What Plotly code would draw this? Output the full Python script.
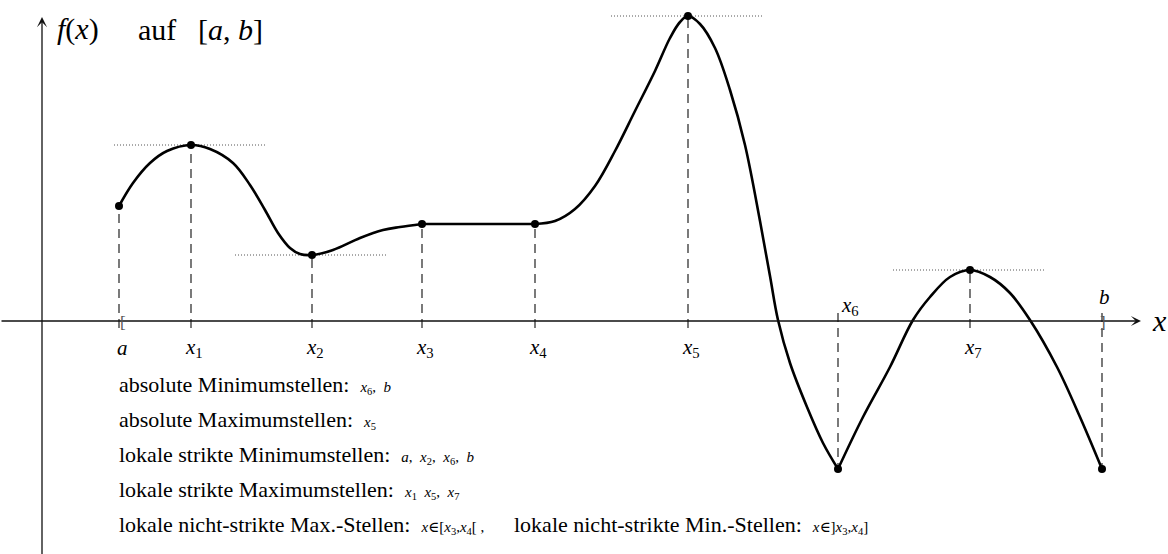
import plotly.graph_objects as go

# Marked points of f on [a, b]: horizontal position and function value
point_names = ["a", "x1", "x2", "x3", "x4", "x5", "x6", "x7", "b"]
point_x = [119, 191, 312, 422, 535, 688, 838, 970, 1102]
point_y = [115, 176, 66, 97, 97, 305, -148, 51, -148]

# Curve knots between the marked points
seg1_x = [119, 133, 150, 167, 191, 210, 233, 250, 265, 278, 290, 300, 312, 333, 360, 383, 400, 422]
seg1_y = [115, 138, 158, 170, 176, 172, 158, 136, 111, 88, 73, 67, 66, 71, 83, 91, 94, 97]
seg2_x = [422, 535]
seg2_y = [97, 97]
seg3_x = [535, 555, 575, 595, 615, 635, 655, 670, 680, 688, 700, 715, 730, 745, 760, 770, 778, 790, 807, 823, 838]
seg3_y = [97, 100, 112, 135, 170, 210, 250, 283, 299, 305, 297, 273, 231, 176, 100, 45, 1, -42, -86, -122, -148]
seg4_x = [838, 863, 890, 913, 930, 950, 970, 990, 1010, 1030, 1057, 1080, 1102]
seg4_y = [-148, -96, -46, 1, 24, 44, 51, 44, 28, 1, -46, -96, -148]

# Points with a horizontal tangent
tangent_points = ["x1", "x2", "x5", "x7"]

# Description lines
lines = [
    ("absolute Minimumstellen:", "<i>x</i><sub>6</sub>,  <i>b</i>"),
    ("absolute Maximumstellen:", "<i>x</i><sub>5</sub>"),
    ("lokale strikte Minimumstellen:", "<i>a</i>,  <i>x</i><sub>2</sub>,  <i>x</i><sub>6</sub>,  <i>b</i>"),
    ("lokale strikte Maximumstellen:", "<i>x</i><sub>1</sub>  <i>x</i><sub>5</sub>,  <i>x</i><sub>7</sub>"),
    ("lokale nicht-strikte Max.-Stellen:", "<i>x</i>∈[<i>x</i><sub>3</sub>,<i>x</i><sub>4</sub>[ ,"),
]
extra_line = ("lokale nicht-strikte Min.-Stellen:", "<i>x</i>∈]<i>x</i><sub>3</sub>,<i>x</i><sub>4</sub>]")

SERIF = "Times New Roman, Liberation Serif, DejaVu Serif, serif"
BLACK = "#000000"

fig = go.Figure()

# dashed drop lines from each point to the x axis
for name, px, py in zip(point_names, point_x, point_y):
    if py > 0:
        y0, y1 = -7, py
    else:
        y0, y1 = 8, py
    fig.add_trace(go.Scatter(x=[px, px], y=[y0, y1], mode="lines",
                             line=dict(color="#222222", width=1.2, dash="9px,6px"),
                             hoverinfo="skip", showlegend=False))

# dotted horizontal tangents
for name in tangent_points:
    i = point_names.index(name)
    fig.add_trace(go.Scatter(x=[point_x[i] - 77, point_x[i] + 76], y=[point_y[i], point_y[i]],
                             mode="lines", line=dict(color="#555555", width=1, dash="1px,2px"),
                             hoverinfo="skip", showlegend=False))

# the graph of f
for sx, sy, shape in [(seg1_x, seg1_y, "spline"), (seg2_x, seg2_y, "linear"),
                      (seg3_x, seg3_y, "spline"), (seg4_x, seg4_y, "spline")]:
    fig.add_trace(go.Scatter(x=sx, y=sy, mode="lines",
                             line=dict(color=BLACK, width=2.6, shape=shape, smoothing=1.0),
                             hoverinfo="skip", showlegend=False))

# marked points
fig.add_trace(go.Scatter(x=point_x, y=point_y, mode="markers",
                         marker=dict(color=BLACK, size=8),
                         hoverinfo="skip", showlegend=False))

annotations = []

# coordinate axes with arrow heads
annotations.append(dict(x=1141, y=0, ax=0, ay=0, xref="x", yref="y", axref="x", ayref="y",
                        text="", showarrow=True, arrowhead=3, arrowsize=1.3, arrowwidth=1.3,
                        arrowcolor="#111111", standoff=0))
annotations.append(dict(x=42, y=304, ax=42, ay=-240, xref="x", yref="y", axref="x", ayref="y",
                        text="", showarrow=True, arrowhead=3, arrowsize=1.3, arrowwidth=1.3,
                        arrowcolor="#111111", standoff=0))

# axis names and title
annotations.append(dict(x=1150, y=1, xref="x", yref="y", xanchor="left", yanchor="middle",
                        text="<i>x</i>", showarrow=False, font=dict(family=SERIF, size=30, color=BLACK)))
annotations.append(dict(x=55, y=292, xref="x", yref="y", xanchor="left", yanchor="middle",
                        text="<i>f</i>(<i>x</i>)", showarrow=False, font=dict(family=SERIF, size=30, color=BLACK)))
annotations.append(dict(x=136, y=292, xref="x", yref="y", xanchor="left", yanchor="middle",
                        text="auf", showarrow=False, font=dict(family=SERIF, size=30, color=BLACK)))
annotations.append(dict(x=196, y=292, xref="x", yref="y", xanchor="left", yanchor="middle",
                        text="[<i>a</i>, <i>b</i>]", showarrow=False, font=dict(family=SERIF, size=30, color=BLACK)))

# labels of the marked points
def point_label(name):
    if name.startswith("x"):
        return "<i>x</i><sub>%s</sub>" % name[1:]
    return "<i>%s</i>" % name

for name, px in zip(point_names, point_x):
    if name == "x6":
        lx, ly = px + 12, 15
    elif name == "b":
        lx, ly = px + 2, 24
    else:
        lx, ly = px + 3, -27
    annotations.append(dict(x=lx, y=ly, xref="x", yref="y", xanchor="center", yanchor="middle",
                            text=point_label(name), showarrow=False,
                            font=dict(family=SERIF, size=21, color=BLACK)))

# interval brackets at a and b
annotations.append(dict(x=123, y=-1, xref="x", yref="y", xanchor="center", yanchor="middle",
                        text="[", showarrow=False, font=dict(family=SERIF, size=17, color="#555555")))
annotations.append(dict(x=1103, y=-1, xref="x", yref="y", xanchor="center", yanchor="middle",
                        text="]", showarrow=False, font=dict(family=SERIF, size=17, color="#555555")))

# description text
def desc(words, math):
    return words + "  <span style='font-size:15px'>" + math + "</span>"

row_y = [-63, -98, -133, -168, -203]
for (words, math), ry in zip(lines, row_y):
    annotations.append(dict(x=117, y=ry, xref="x", yref="y", xanchor="left", yanchor="middle",
                            text=desc(words, math), showarrow=False,
                            font=dict(family=SERIF, size=22, color=BLACK)))
annotations.append(dict(x=512, y=row_y[-1], xref="x", yref="y", xanchor="left", yanchor="middle",
                        text=desc(*extra_line), showarrow=False,
                        font=dict(family=SERIF, size=22, color=BLACK)))

fig.update_layout(
    width=1168, height=554,
    margin=dict(l=0, r=0, t=0, b=0),
    paper_bgcolor="white", plot_bgcolor="white",
    font=dict(family=SERIF, color=BLACK),
    xaxis=dict(range=[0, 1168], visible=False, fixedrange=True),
    yaxis=dict(range=[-233, 321], visible=False, fixedrange=True),
    annotations=annotations,
    showlegend=False,
)

fig.write_html("out.html")
